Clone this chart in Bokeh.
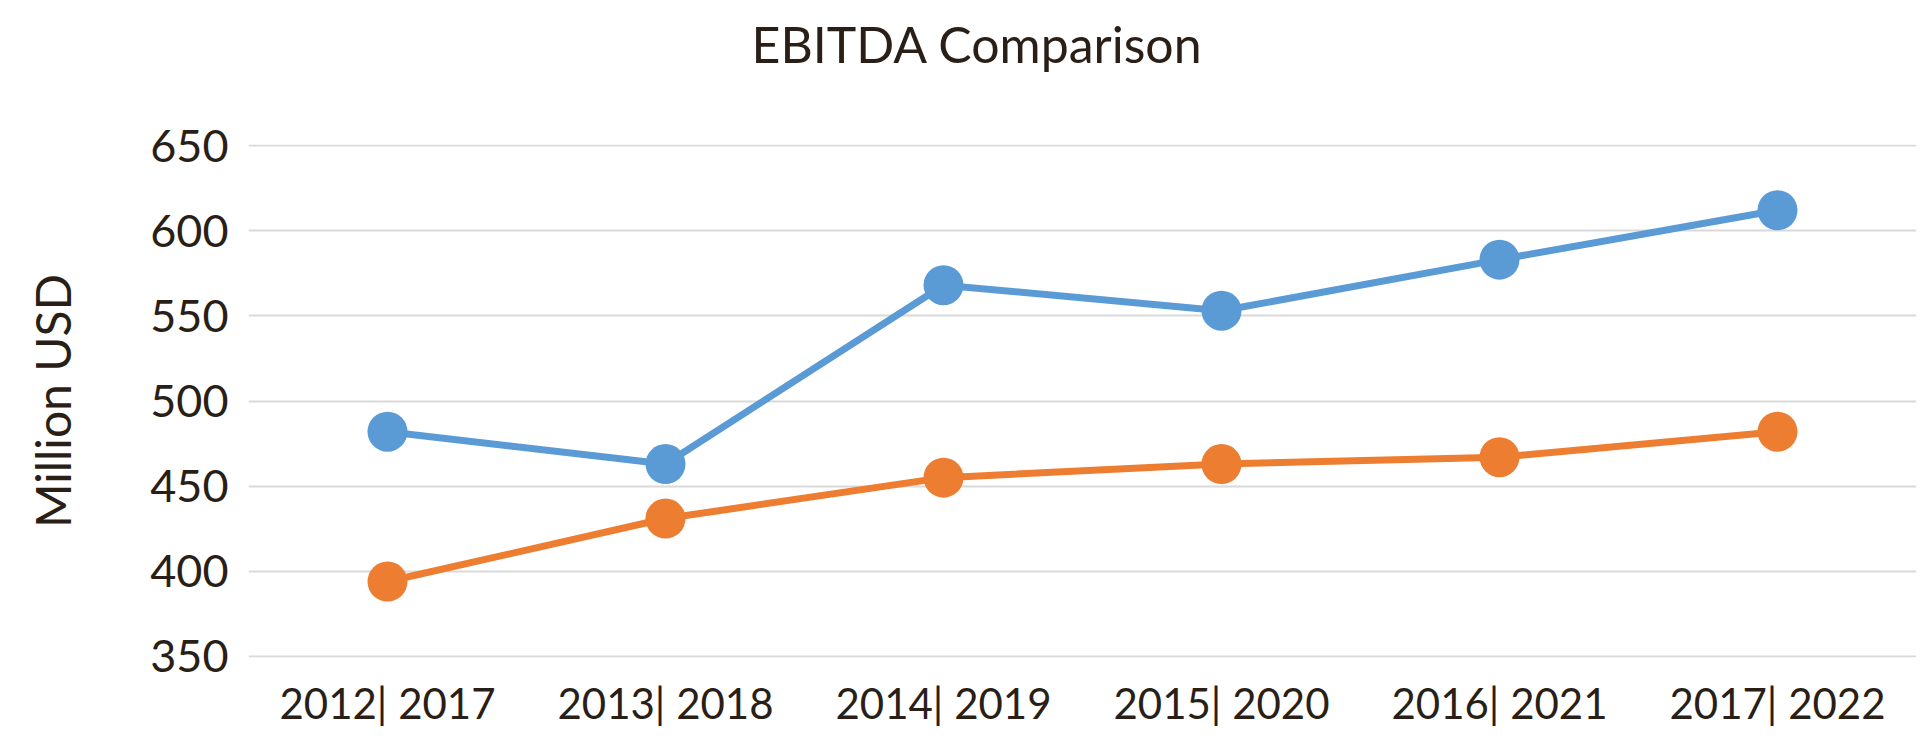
from bokeh.plotting import figure
from bokeh.models import Range1d, Title
from bokeh.embed import file_html
from bokeh.resources import INLINE

categories = ["2012| 2017", "2013| 2018", "2014| 2019", "2015| 2020", "2016| 2021", "2017| 2022"]
series_blue = [482, 463, 568, 553, 583, 612]
series_orange = [394, 431, 455, 463, 467, 482]
y_ticks = [350, 400, 450, 500, 550, 600, 650]

FONT = "Lato"
TEXT = "#2a1f17"
BLUE = "#5b9bd5"
ORANGE = "#ed7d31"

p = figure(x_range=categories, y_range=Range1d(349.4, 650.6),
           width=1916, height=730, output_backend="svg", toolbar_location=None,
           min_border_left=248, min_border_right=0, min_border_top=144, min_border_bottom=71)
p.outline_line_color = None
p.background_fill_color = "white"
p.border_fill_color = "white"

p.xgrid.grid_line_color = None
p.ygrid.grid_line_color = "#d9d9d9"
p.ygrid.grid_line_width = 2
p.yaxis.ticker = y_ticks

for ax in (p.xaxis[0], p.yaxis[0]):
    ax.axis_line_color = None
    ax.major_tick_line_color = None
    ax.minor_tick_line_color = None
    ax.major_tick_out = 0
    ax.major_tick_in = 0
    ax.major_label_text_font = FONT
    ax.major_label_text_color = TEXT
p.yaxis.major_label_text_font_size = "45px"
p.xaxis.major_label_text_font_size = "42px"
p.yaxis.major_label_standoff = 20
p.xaxis.major_label_standoff = 20

p.yaxis.axis_label = "Million USD"
p.yaxis.axis_label_text_font = FONT
p.yaxis.axis_label_text_font_size = "48px"
p.yaxis.axis_label_text_font_style = "normal"
p.yaxis.axis_label_text_color = TEXT
p.yaxis.axis_label_standoff = 66

p.line(categories, series_blue, line_color=BLUE, line_width=7)
p.scatter(categories, series_blue, size=40, fill_color=BLUE, line_color=None)
p.line(categories, series_orange, line_color=ORANGE, line_width=7)
p.scatter(categories, series_orange, size=40, fill_color=ORANGE, line_color=None)

p.title.text = ""
spacer = Title(text=" ", text_font_size="10px", standoff=51)
p.add_layout(spacer, "above")
title = Title(text="EBITDA Comparison", text_font=FONT, text_font_size="50px",
              text_font_style="normal", text_color=TEXT, align="left", offset=503,
              vertical_align="top", standoff=10)
p.add_layout(title, "above")

open("out.html", "w").write(file_html(p, INLINE))
